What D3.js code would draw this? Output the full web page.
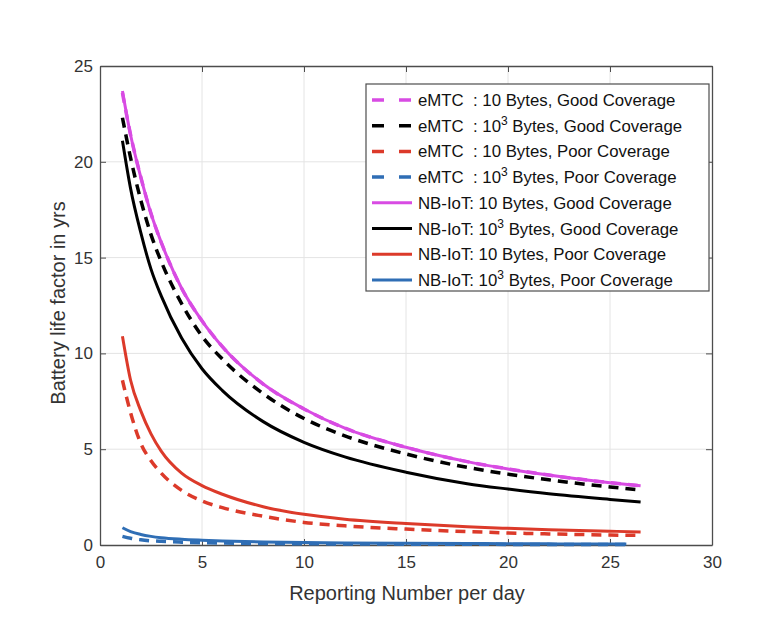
<!DOCTYPE html>
<html>
<head>
<meta charset="utf-8">
<script src="https://cdn.jsdelivr.net/npm/d3@7"></script>
<style>
  html, body { margin: 0; padding: 0; background: #fff; }
  svg { display: block; font-family: "Liberation Sans", Arial, Helvetica, sans-serif; }
</style>
</head>
<body>
<svg id="chart" width="768" height="624"></svg>
<script>
// ---------- data ----------
const xTicks = [0, 5, 10, 15, 20, 25, 30];
const yTicks = [0, 5, 10, 15, 20, 25];

const xMain = [1.1, 1.5, 2, 2.5, 3, 4, 5, 6, 8, 10, 12, 15, 18, 20, 22, 25, 26.5];
const xBlue = [1.1, 1.5, 2, 2.5, 3, 4, 5, 6, 8, 10, 12, 15, 18, 20, 22, 25, 25.8];

const emtcMagentaDashed = [23.6, 21.4, 19.2, 17.3, 15.8, 13.4, 11.7, 10.35, 8.4, 7.1, 6.1, 5.1, 4.35, 3.97, 3.65, 3.25, 3.09];
const emtcBlackDashed   = [22.3, 20.2, 18.0, 16.2, 14.8, 12.6, 10.9, 9.7, 7.9, 6.6, 5.7, 4.75, 4.05, 3.7, 3.4, 3.03, 2.87];
const emtcRedDashed     = [8.6, 6.9, 5.3, 4.4, 3.75, 2.85, 2.3, 1.95, 1.5, 1.18, 1.0, 0.83, 0.7, 0.63, 0.58, 0.52, 0.5];
const emtcBlueDashed    = [0.45, 0.35, 0.27, 0.22, 0.19, 0.15, 0.12, 0.1, 0.08, 0.065, 0.055, 0.045, 0.035, 0.032, 0.03, 0.025, 0.025];

const nbMagenta = [23.7, 21.4, 19.2, 17.3, 15.8, 13.4, 11.7, 10.35, 8.4, 7.1, 6.1, 5.1, 4.35, 3.97, 3.65, 3.25, 3.09];
const nbBlack   = [21.1, 18.6, 16.3, 14.4, 13.0, 10.8, 9.2, 8.06, 6.44, 5.36, 4.6, 3.8, 3.2, 2.92, 2.67, 2.38, 2.25];
const nbRed     = [10.9, 8.6, 7.0, 5.8, 4.9, 3.75, 3.1, 2.65, 2.0, 1.6, 1.35, 1.12, 0.95, 0.87, 0.8, 0.72, 0.68];
const nbBlue    = [0.9, 0.7, 0.55, 0.45, 0.38, 0.3, 0.25, 0.21, 0.16, 0.13, 0.11, 0.09, 0.075, 0.07, 0.06, 0.05, 0.05];

const series = [
  { tech: "eMTC  ", bytes: "10", sup: null, cov: "Good", color: "#d84be3", dashed: true,  x: xMain, y: emtcMagentaDashed },
  { tech: "eMTC  ", bytes: "10", sup: "3",  cov: "Good", color: "#000000", dashed: true,  x: xMain, y: emtcBlackDashed },
  { tech: "eMTC  ", bytes: "10", sup: null, cov: "Poor", color: "#dc3a2a", dashed: true,  x: xMain, y: emtcRedDashed },
  { tech: "eMTC  ", bytes: "10", sup: "3",  cov: "Poor", color: "#2f6eb5", dashed: true,  x: xBlue, y: emtcBlueDashed },
  { tech: "NB-IoT", bytes: "10", sup: null, cov: "Good", color: "#d84be3", dashed: false, x: xMain, y: nbMagenta },
  { tech: "NB-IoT", bytes: "10", sup: "3",  cov: "Good", color: "#000000", dashed: false, x: xMain, y: nbBlack },
  { tech: "NB-IoT", bytes: "10", sup: null, cov: "Poor", color: "#dc3a2a", dashed: false, x: xMain, y: nbRed },
  { tech: "NB-IoT", bytes: "10", sup: "3",  cov: "Poor", color: "#2f6eb5", dashed: false, x: xBlue, y: nbBlue }
];

// ---------- layout ----------
const svg = d3.select("#chart");
const L = 100, R = 712, T = 66, B = 545;
const x = d3.scaleLinear().domain([0, 30]).range([L, R]);
const y = d3.scaleLinear().domain([0, 25]).range([B, T]);
const axisColor = "#4d4d4d";
const textColor = "#333";

// grid
svg.append("g").selectAll("line").data(xTicks.slice(1, -1)).join("line")
  .attr("x1", d => x(d)).attr("x2", d => x(d)).attr("y1", T).attr("y2", B)
  .attr("stroke", "#e4e4e4").attr("stroke-width", 1);
svg.append("g").selectAll("line").data(yTicks.slice(1, -1)).join("line")
  .attr("x1", L).attr("x2", R).attr("y1", d => y(d)).attr("y2", d => y(d))
  .attr("stroke", "#e4e4e4").attr("stroke-width", 1);

// axes
const xAxis = svg.append("g").attr("transform", `translate(0,${B})`)
  .call(d3.axisBottom(x).tickValues(xTicks).tickSizeInner(-6).tickSizeOuter(0).tickPadding(11));
const yAxis = svg.append("g").attr("transform", `translate(${L},0)`)
  .call(d3.axisLeft(y).tickValues(yTicks).tickSizeInner(-6).tickSizeOuter(0).tickPadding(7));
const xTop = svg.append("g").attr("transform", `translate(0,${T})`)
  .call(d3.axisTop(x).tickValues(xTicks).tickSizeInner(-6).tickSizeOuter(0).tickFormat(""));
const yRight = svg.append("g").attr("transform", `translate(${R},0)`)
  .call(d3.axisRight(y).tickValues(yTicks).tickSizeInner(-6).tickSizeOuter(0).tickFormat(""));
[xAxis, yAxis, xTop, yRight].forEach(g => {
  g.select(".domain").attr("stroke", axisColor).attr("stroke-width", 1.3);
  g.selectAll(".tick line").attr("stroke", axisColor).attr("stroke-width", 1);
  g.selectAll(".tick text").attr("fill", textColor).attr("font-size", 17)
    .attr("font-family", "'Liberation Sans', Arial, sans-serif");
});

// curves
const line = d3.line().x(d => x(d[0])).y(d => y(d[1])).curve(d3.curveMonotoneX);
const plot = svg.append("g");
series.forEach(s => {
  const pts = s.x.map((xv, i) => [xv, s.y[i]]);
  plot.append("path").datum(pts)
    .attr("d", line)
    .attr("fill", "none")
    .attr("stroke", s.color)
    .attr("stroke-width", s.dashed ? 3.5 : 3)
    .attr("stroke-dasharray", s.dashed ? "10,7" : null)
    .attr("stroke-linecap", "butt");
});

// axis labels
svg.append("text").attr("x", (L + R) / 2 + 1).attr("y", 600).attr("text-anchor", "middle")
  .attr("font-size", 20).attr("fill", textColor).text("Reporting Number per day");
svg.append("text").attr("transform", `translate(65,303) rotate(-90)`)
  .attr("text-anchor", "middle").attr("font-size", 20).attr("fill", textColor)
  .text("Battery life factor in yrs");

// legend
const lg = svg.append("g");
const lgX = 366, lgY = 84, lgW = 343, lgH = 207, rowH = 25.7;
lg.append("rect").attr("x", lgX).attr("y", lgY).attr("width", lgW).attr("height", lgH)
  .attr("fill", "#fff").attr("stroke", axisColor).attr("stroke-width", 1.2);
series.forEach((s, i) => {
  const cy = lgY + 16 + i * rowH;
  lg.append("line").attr("x1", lgX + 6).attr("x2", lgX + 46).attr("y1", cy).attr("y2", cy)
    .attr("stroke", s.color).attr("stroke-width", s.dashed ? 3.5 : 3)
    .attr("stroke-dasharray", s.dashed ? "12,15" : null);
  const t = lg.append("text").attr("x", lgX + 52).attr("y", cy + 6)
    .attr("font-size", 16.8).attr("fill", "#111").attr("xml:space", "preserve")
    .style("white-space", "pre");
  t.append("tspan").text(s.tech + ": " + s.bytes);
  if (s.sup) {
    t.append("tspan").attr("dy", -7).attr("font-size", 12).text(s.sup);
    t.append("tspan").attr("dy", 7).text(" Bytes, " + s.cov + " Coverage");
  } else {
    t.append("tspan").text(" Bytes, " + s.cov + " Coverage");
  }
});
</script>
</body>
</html>
